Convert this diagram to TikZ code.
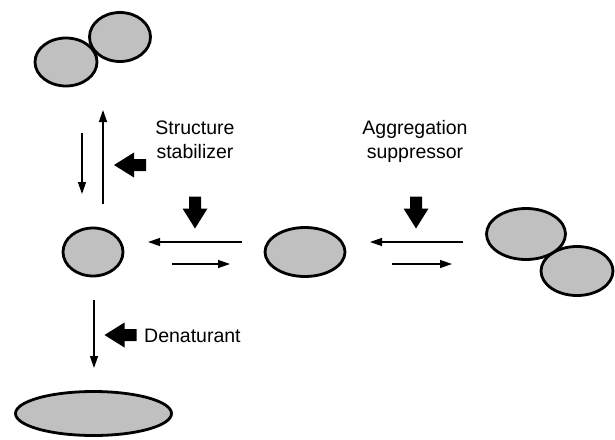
\documentclass[tikz,border=0pt]{standalone}
\usepackage{fontspec}
\setmainfont{Liberation Sans}
\usetikzlibrary{shapes.geometric,arrows.meta}
\definecolor{blobgray}{RGB}{192,192,192}
\begin{document}
\begin{tikzpicture}[x=1pt,y=-1pt,
  blob/.style={ellipse,draw=black,fill=blobgray,line width=2.8pt,inner sep=0pt},
  thinarrow/.style={line width=1.3pt,-{Triangle[length=12pt,width=8pt]}},
  lbl/.style={font=\fontsize{19.5}{24}\selectfont,inner sep=0pt,align=center},
  blockarr/.pic={\fill[black] (-16,-6) -- (-4,-6) -- (-4,-12.5) -- (16,0)
      -- (-4,12.5) -- (-4,6) -- (-16,6) -- cycle;}]
\useasboundingbox (0,0) rectangle (615,439);

% top dimer
\node[blob,minimum width=61pt,minimum height=49pt] (dimerB) at (120,37) {};
\node[blob,minimum width=62pt,minimum height=48pt] (dimerA) at (66,62) {};

% native monomer
\node[blob,minimum width=60pt,minimum height=48pt] (native) at (93,252) {};
% intermediate
\node[blob,minimum width=80pt,minimum height=49pt] (inter) at (305,252) {};
% aggregate
\node[blob,minimum width=72pt,minimum height=49pt] (aggB) at (577,271) {};
\node[blob,minimum width=79pt,minimum height=51pt] (aggA) at (526,234) {};
% denatured
\node[blob,minimum width=156pt,minimum height=44pt] (denat) at (93.5,413.5) {};

% connector ends
\coordinate (d1s) at (82,133); \coordinate (d1e) at (82,194);
\coordinate (u1s) at (103,204); \coordinate (u1e) at (103,110);
\coordinate (l1s) at (242,242); \coordinate (l1e) at (148,242);
\coordinate (r1s) at (172,264); \coordinate (r1e) at (230,264);
\coordinate (l2s) at (463,242); \coordinate (l2e) at (370,242);
\coordinate (r2s) at (392,264); \coordinate (r2e) at (452,264);
\coordinate (d2s) at (94,300); \coordinate (d2e) at (94,368);

\draw[thinarrow] (d1s) -- (d1e);
\draw[thinarrow] (u1s) -- (u1e);
\draw[thinarrow] (l1s) -- (l1e);
\draw[thinarrow] (r1s) -- (r1e);
\draw[thinarrow] (l2s) -- (l2e);
\draw[thinarrow] (r2s) -- (r2e);
\draw[thinarrow] (d2s) -- (d2e);

% block arrows
\pic[rotate=180] (ba1) at (130,165) {blockarr};
\pic[rotate=270] (ba2) at (195,212.5) {blockarr};
\pic[rotate=270] (ba3) at (416,212.5) {blockarr};
\pic[rotate=180] (ba4) at (120.5,335) {blockarr};

% labels
\node[lbl,anchor=base] (stab) at (195,158) {Structure\\stabilizer};
\node[lbl,anchor=base] (supp) at (415,158) {Aggregation\\suppressor};
\node[lbl,anchor=base west] (den) at (144,342) {Denaturant};
\end{tikzpicture}
\end{document}
